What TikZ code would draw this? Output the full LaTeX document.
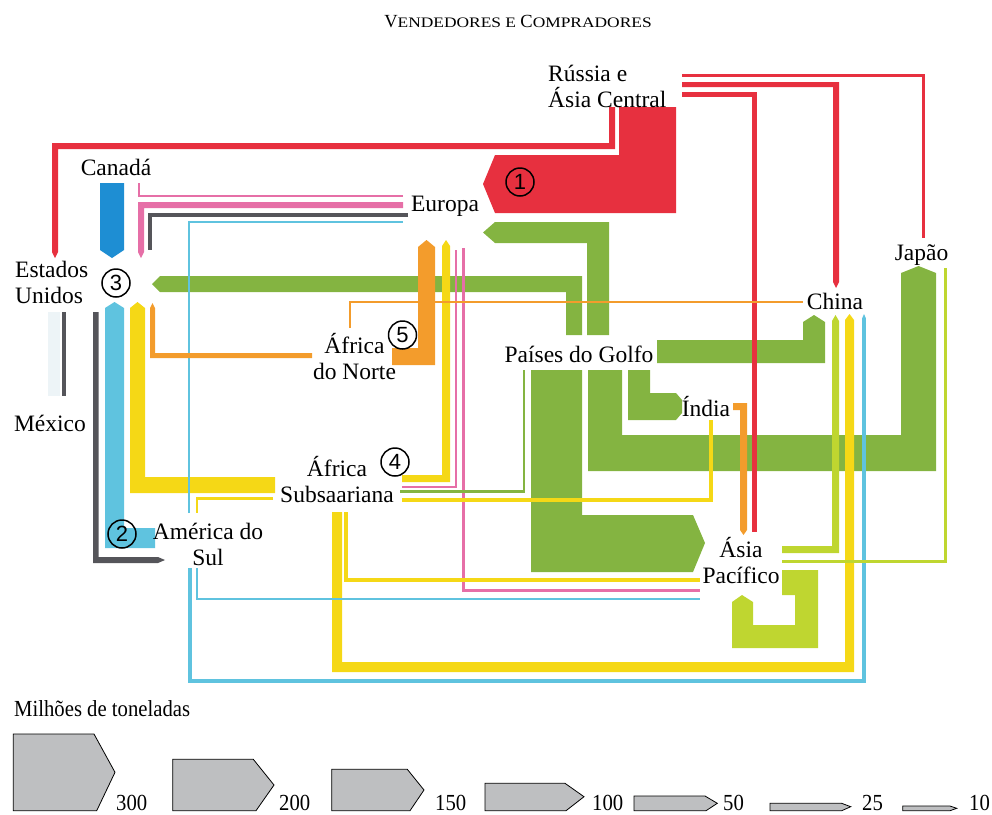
\documentclass[tikz,border=0pt]{standalone}
\usepackage{fontspec}
\setmainfont{Liberation Serif}
\newfontfamily\legendfont[FakeStretch=0.9]{Liberation Serif}
\newfontfamily\smallcapsfont[FakeStretch=1.2]{Liberation Serif}
\newfontfamily\circfont{Liberation Sans}
\usetikzlibrary{calc}

\definecolor{rusred}{HTML}{E7303F}
\definecolor{gulfgreen}{HTML}{84B441}
\definecolor{apaclime}{HTML}{BFD630}
\definecolor{ssayellow}{HTML}{F5D816}
\definecolor{naorange}{HTML}{F39C2C}
\definecolor{eurpink}{HTML}{E66FA7}
\definecolor{canblue}{HTML}{1E8ED3}
\definecolor{sablue}{HTML}{5FC3DF}
\definecolor{usgray}{HTML}{55555A}
\definecolor{mexpale}{HTML}{EDF4F7}
\definecolor{legendgray}{HTML}{BEBFC1}

\begin{document}
\begin{tikzpicture}[x=1pt, y=-1pt,
    placename/.style={font=\fontsize{23.5}{25.5}\selectfont, inner sep=0pt},
    numcirc/.style={circle, draw, line width=1.5pt, minimum size=28pt, inner sep=0pt,
        font=\circfont\fontsize{22}{22}\selectfont},
    flowline/.style={line width=#1, line cap=butt, line join=miter},
    legendbox/.style={draw=black, line width=0.8pt, fill=legendgray, line join=miter},
    legendnum/.style={font=\legendfont\fontsize{23}{23}\selectfont, inner sep=0pt, anchor=base west}
]

    \useasboundingbox (0,0) rectangle (992,814);

    % Title, in small capitals
    \node[anchor=base, inner sep=0pt] (title) at (518,27)
        {\fontsize{18.5}{18.5}\selectfont V{\smallcapsfont\fontsize{14.5}{14.5}\selectfont ENDEDORES E }C{\smallcapsfont\fontsize{14.5}{14.5}\selectfont OMPRADORES}};

    % Russia: the big block to Europe and the line to the US
    \begin{scope}[rusred]
        \fill (619,107) -- (676,107) -- (676,213) -- (495,213) -- (483,184)
            -- (495,155) -- (619,155) -- cycle;
        \fill (609,107) -- (615,107) -- (615,149) -- (58,149) -- (58,252)
            -- (55,258) -- (52,252) -- (52,143) -- (609,143) -- cycle;
    \end{scope}

    % Gulf countries: the wide green flows
    \begin{scope}[gulfgreen]
        % to the US
        \fill (582,335) -- (582,276) -- (160,276) -- (152,284) -- (160,292)
            -- (566,292) -- (566,335) -- cycle;
        % to Europe
        \fill (609,335) -- (609,222) -- (495,222) -- (483,232.5) -- (495,243)
            -- (587,243) -- (587,335) -- cycle;
        % to China
        \fill (657,340) -- (803,340) -- (803,322) -- (814,315) -- (825,322)
            -- (825,363) -- (657,363) -- cycle;
        % to Asia Pacific
        \fill (531,370) -- (582,370) -- (582,515) -- (693,515) -- (705,543)
            -- (693,572) -- (531,572) -- cycle;
        % to Japan
        \fill (588,370) -- (622,370) -- (622,435) -- (901,435) -- (901,273)
            -- (918.5,266) -- (936,273) -- (936,471) -- (588,471) -- cycle;
        % to India
        \fill (628,370) -- (650,370) -- (650,393) -- (676,393) -- (682,400)
            -- (682,413) -- (676,420) -- (628,420) -- cycle;
    \end{scope}

    % Asia Pacific: the loop back into itself
    \fill[apaclime] (782,570) -- (818,570) -- (818,648) -- (732,648) -- (732,602)
        -- (742,595) -- (753,602) -- (753,625) -- (795,625) -- (795,595)
        -- (782,595) -- cycle;

    % Wide flows into the US and Europe
    \fill[canblue] (100,183) -- (124,183) -- (124,250) -- (112,258) -- (100,250) -- cycle;
    \fill[sablue] (105,548) -- (105,308) -- (114.5,302) -- (124,308) -- (124,528)
        -- (155,528) -- (155,548) -- cycle;
    \fill[ssayellow] (130,493) -- (130,308) -- (137.5,302) -- (145,308) -- (145,477)
        -- (275,477) -- (275,493) -- cycle;
    \fill[naorange] (392,348) -- (418,348) -- (418,247) -- (426.5,240) -- (435,247)
        -- (435,365) -- (392,365) -- cycle;
    \fill[ssayellow] (402,475) -- (442,475) -- (442,246) -- (446,240) -- (450,246)
        -- (450,482) -- (402,482) -- cycle;
    \fill[eurpink] (403,202) -- (138,202) -- (138,252) -- (141,258) -- (144,252)
        -- (144,208) -- (403,208) -- cycle;

    % Sub-Saharan Africa to China, round the bottom
    \fill[ssayellow] (332,512) -- (342,512) -- (342,662) -- (845,662) -- (845,320)
        -- (849.5,314) -- (854,320) -- (854,672) -- (332,672) -- cycle;

    % Narrow flows
    \begin{scope}[rusred]
        \draw[flowline=3] (682,75.5) -- (923.5,75.5) -- (923.5,238);
        \fill (682,82) -- (839,82) -- (839,282) -- (836,288) -- (833,282)
            -- (833,87) -- (682,87) -- cycle;
        \draw[flowline=5] (682,94.5) -- (754.5,94.5) -- (754.5,532);
    \end{scope}

    \begin{scope}[eurpink]
        \draw[flowline=2] (403,196) -- (139,196) -- (139,183);
        \draw[flowline=2] (456,250) -- (456,487) -- (402,487);
        \draw[flowline=3.5] (463.5,248) -- (463.5,590.5) -- (700,590.5);
    \end{scope}

    \begin{scope}[usgray]
        \draw[flowline=4] (408,215) -- (150,215) -- (150,250);
        \draw[flowline=4] (64,312) -- (64,396);
        \fill (93,312) -- (98.5,312) -- (98.5,557) -- (158,557) -- (165,560)
            -- (158,563) -- (93,563) -- cycle;
    \end{scope}
    \fill[mexpale] (48,312) rectangle (60,396);

    \begin{scope}[sablue]
        \draw[flowline=2.5] (189,513) -- (189,222) -- (403,222);
        \draw[flowline=2.5] (197,568) -- (197,599) -- (700,599);
        \draw[flowline=3.5] (190,568) -- (190,681) -- (864,681) -- (864,318);
        \fill (862.25,318) -- (864,314) -- (865.75,318) -- cycle;
    \end{scope}

    \begin{scope}[ssayellow]
        \draw[flowline=2.5] (273,498.5) -- (197,498.5) -- (197,513);
        \draw[flowline=3.5] (402,500) -- (711,500) -- (711,420);
        \draw[flowline=4] (345.5,512) -- (345.5,580) -- (700,580);
    \end{scope}

    \begin{scope}[naorange]
        \fill (312,353) -- (155,353) -- (155,308) -- (152.5,303) -- (150,308)
            -- (150,358) -- (312,358) -- cycle;
        \draw[flowline=2] (350,328) -- (350,301.5) -- (803,301.5);
        \fill (733,403) -- (747,403) -- (747,530) -- (743.5,535) -- (740,530)
            -- (740,410) -- (733,410) -- cycle;
    \end{scope}

    \draw[gulfgreen, flowline=2.5] (524,370) -- (524,491.5) -- (400,491.5);

    \begin{scope}[apaclime]
        \fill (782,546) -- (832,546) -- (832,321) -- (835.5,315) -- (839,321)
            -- (839,553) -- (782,553) -- cycle;
        \draw[flowline=3.5] (782,561.5) -- (945.5,561.5) -- (945.5,268);
    \end{scope}

    % Region names (two-line names sit on the baseline of their last line)
    \node[placename, anchor=base west, align=left] (russia) at (548,107) {Rússia e\\Ásia Central};
    \node[placename, anchor=base] (canada) at (116,175) {Canadá};
    \node[placename, anchor=base west, align=left] (usa) at (15,303) {Estados\\Unidos};
    \node[placename, anchor=base] (mexico) at (50,431) {México};
    \node[placename, anchor=base] (europe) at (445,211) {Europa};
    \node[placename, anchor=base, align=center] (nafrica) at (354.5,379) {África\\do Norte};
    \node[placename, anchor=base] (gulf) at (579,362) {Países do Golfo};
    \node[placename, anchor=base] (india) at (706,416) {Índia};
    \node[placename, anchor=base] (china) at (835,309) {China};
    \node[placename, anchor=base] (japan) at (921.5,260) {Japão};
    \node[placename, anchor=base, align=center] (ssafrica) at (337,502) {África\\Subsaariana};
    \node[placename, anchor=base, align=center] (samerica) at (208,565) {América do\\Sul};
    \node[placename, anchor=base, align=center] (apac) at (741,583) {Ásia\\Pacífico};

    % Ranking of the sellers
    \node[numcirc] (rank1) at (520,182) {1};
    \node[numcirc] (rank2) at (122,534) {2};
    \node[numcirc] (rank3) at (116,283) {3};
    \node[numcirc] (rank4) at (395,462) {4};
    \node[numcirc] (rank5) at (402.5,335) {5};

    % Legend: widths of the flows
    \node[anchor=base west, inner sep=0pt, font=\legendfont\fontsize{23}{23}\selectfont]
        (legendtitle) at (14,716) {Milhões de toneladas};

    \draw[legendbox] (13.3,734) -- (94,734) -- (115,772.3) -- (96.7,810.7) -- (13.3,810.7) -- cycle;
    \node[legendnum] (leg300) at (116,810.7) {300};
    \draw[legendbox] (172.7,759.3) -- (253.3,759.3) -- (274,785) -- (256,810.7) -- (172.7,810.7) -- cycle;
    \node[legendnum] (leg200) at (279,810.7) {200};
    \draw[legendbox] (331.7,769.3) -- (407.3,769.3) -- (424,790) -- (410,810.7) -- (331.7,810.7) -- cycle;
    \node[legendnum] (leg150) at (435,810.7) {150};
    \draw[legendbox] (485,783.3) -- (565,783.3) -- (584,796.7) -- (566,810.7) -- (485,810.7) -- cycle;
    \node[legendnum] (leg100) at (592,810.7) {100};
    \draw[legendbox] (634,796) -- (705,796) -- (717.3,803.3) -- (706,810.7) -- (634,810.7) -- cycle;
    \node[legendnum] (leg50) at (723,810.7) {50};
    \draw[legendbox] (770,803.3) -- (841.7,803.3) -- (850.7,806.7) -- (841.7,810.7) -- (770,810.7) -- cycle;
    \node[legendnum] (leg25) at (862,810.7) {25};
    \draw[legendbox] (902.7,806) -- (950,806) -- (956.7,808.3) -- (950,810.7) -- (902.7,810.7) -- cycle;
    \node[legendnum] (leg10) at (969,810.7) {10};

\end{tikzpicture}
\end{document}
